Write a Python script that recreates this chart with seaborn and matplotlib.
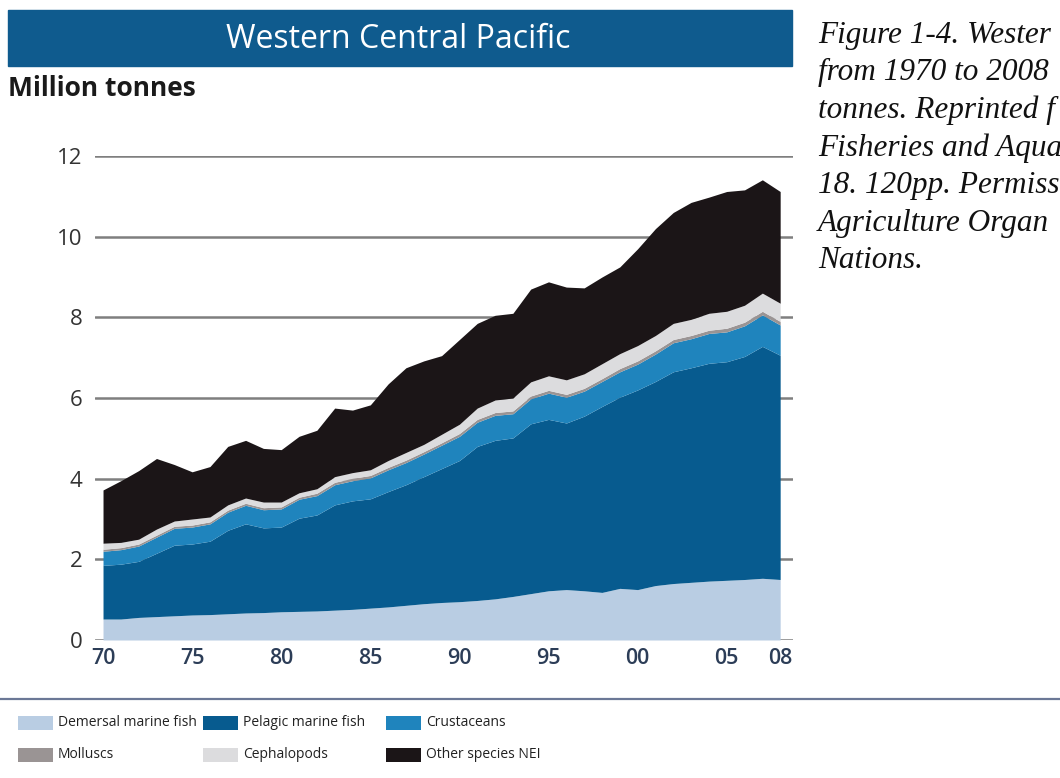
import numpy as np
import matplotlib
matplotlib.use("Agg")
import matplotlib.pyplot as plt
from matplotlib.patches import Rectangle
from matplotlib.lines import Line2D
import seaborn as sns

# Western Central Pacific catches, million tonnes
years = list(range(1970, 2009))

demersal = [0.52, 0.52, 0.56, 0.58, 0.60, 0.62, 0.63, 0.65, 0.67, 0.68,
            0.70, 0.71, 0.72, 0.74, 0.76, 0.79, 0.82, 0.86, 0.90, 0.93,
            0.95, 0.98, 1.02, 1.08, 1.15, 1.22, 1.25, 1.22, 1.18, 1.28,
            1.25, 1.35, 1.40, 1.43, 1.46, 1.48, 1.50, 1.53, 1.50]
pelagic = [1.33, 1.36, 1.39, 1.57, 1.75, 1.76, 1.82, 2.07, 2.21, 2.10,
           2.10, 2.31, 2.38, 2.61, 2.69, 2.71, 2.86, 2.99, 3.15, 3.32,
           3.50, 3.82, 3.93, 3.93, 4.21, 4.25, 4.13, 4.33, 4.61, 4.74,
           4.95, 5.06, 5.25, 5.32, 5.40, 5.42, 5.53, 5.75, 5.56]
crustaceans = [0.35, 0.36, 0.38, 0.40, 0.42, 0.42, 0.43, 0.45, 0.46, 0.45,
               0.45, 0.47, 0.48, 0.50, 0.50, 0.52, 0.54, 0.55, 0.56, 0.58,
               0.60, 0.60, 0.62, 0.60, 0.62, 0.65, 0.64, 0.62, 0.62, 0.63,
               0.64, 0.68, 0.72, 0.72, 0.74, 0.74, 0.76, 0.78, 0.75]
molluscs = [0.05, 0.05, 0.05, 0.05, 0.05, 0.05, 0.05, 0.05, 0.05, 0.05,
            0.05, 0.05, 0.06, 0.06, 0.06, 0.06, 0.06, 0.06, 0.06, 0.06,
            0.07, 0.07, 0.07, 0.07, 0.07, 0.07, 0.07, 0.07, 0.07, 0.08,
            0.08, 0.08, 0.08, 0.08, 0.08, 0.09, 0.09, 0.09, 0.09]
cephalopods = [0.15, 0.13, 0.12, 0.15, 0.13, 0.15, 0.12, 0.13, 0.13, 0.14,
               0.12, 0.11, 0.11, 0.14, 0.14, 0.14, 0.17, 0.19, 0.18, 0.21,
               0.23, 0.28, 0.31, 0.32, 0.35, 0.36, 0.36, 0.36, 0.37, 0.37,
               0.38, 0.38, 0.40, 0.40, 0.42, 0.42, 0.42, 0.45, 0.45]
other = [1.32, 1.53, 1.70, 1.75, 1.40, 1.17, 1.25, 1.45, 1.43, 1.33,
         1.30, 1.40, 1.45, 1.70, 1.55, 1.61, 1.90, 2.10, 2.07, 1.95,
         2.10, 2.10, 2.10, 2.10, 2.30, 2.33, 2.30, 2.13, 2.15, 2.15,
         2.40, 2.65, 2.75, 2.90, 2.88, 2.97, 2.86, 2.81, 2.77]

labels = ["Demersal marine fish", "Pelagic marine fish", "Crustaceans",
          "Molluscs", "Cephalopods", "Other species NEI"]
colors = ["#b9cde3", "#075b8f", "#1f84bd", "#9a9494", "#dcdcde", "#1b1517"]

yticks = [0, 2, 4, 6, 8, 10, 12]
xticks = [1970, 1975, 1980, 1985, 1990, 1995, 2000, 2005, 2008]
xticklabels = ["70", "75", "80", "85", "90", "95", "00", "05", "08"]

# caption text as far as it shows on the page
caption = ["Figure 1-4. Wester", "from 1970 to 2008", "tonnes. Reprinted f",
           "Fisheries and Aqua", "18. 120pp. Permiss",
           "Agriculture Organ", "Nations."]

W, H = 1060, 778

sns.set_theme(style="white")
plt.rcParams["font.family"] = ["Open Sans", "DejaVu Sans"]

fig = plt.figure(figsize=(W / 100, H / 100), dpi=100)
fig.patch.set_facecolor("white")

# axes spans pixel 95..793 horizontally, 156..640 vertically
ax = fig.add_axes([95 / W, 1 - 640 / H, (793 - 95) / W, (640 - 156) / H])
ax.set_facecolor("white")

for y in yticks:
    ax.axhline(y, color="#7f7f7f", lw=1.8, zorder=0)

ax.stackplot(years, demersal, pelagic, crustaceans, molluscs, cephalopods, other,
             colors=colors, labels=labels, lw=0, zorder=2)

ax.set_xlim(1969.55, 2008.72)
ax.set_ylim(0, 12)
ax.set_yticks(yticks)
ax.set_yticklabels([str(v) for v in yticks], fontsize=16, color="#333333")
ax.set_xticks(xticks)
ax.set_xticklabels(xticklabels, fontsize=15.5, color="#2c3d57", fontweight="semibold")
ax.tick_params(axis="both", length=0)
ax.tick_params(axis="y", pad=9)
ax.tick_params(axis="x", pad=6)
sns.despine(ax=ax, left=True, bottom=True, right=True, top=True)

# title band
fig.patches.append(Rectangle((8 / W, 1 - 66 / H), (792 - 8) / W, 56 / H,
                             transform=fig.transFigure, color="#0f5b8e", zorder=0))
fig.text(398 / W, 1 - 39 / H, "Western Central Pacific", color="white",
         fontsize=23, ha="center", va="center")

fig.text(8 / W, 1 - 89 / H, "Million tonnes", fontsize=19, fontweight="bold",
         color="#1a1a1a", ha="left", va="center")

# caption on the right
for i, line in enumerate(caption):
    fig.text(818 / W, 1 - (35 + 37.6 * i) / H, line, fontsize=22.5, style="italic",
             family=["Liberation Serif", "DejaVu Serif"], color="#111111",
             ha="left", va="center")

# legend strip
fig.lines.append(Line2D([0, 1], [1 - 699 / H, 1 - 699 / H], transform=fig.transFigure,
                        color="#6b7896", lw=1.6))
col_x = [18, 203, 386]
row_y = [723, 755]
for k in range(len(labels)):
    r, c = divmod(k, 3)
    x0, y0 = col_x[c], row_y[r]
    fig.patches.append(Rectangle((x0 / W, 1 - (y0 + 7) / H), 35 / W, 14 / H,
                                 transform=fig.transFigure, color=colors[k], lw=0))
    fig.text((x0 + 40) / W, 1 - y0 / H, labels[k], fontsize=10, color="#222222",
             ha="left", va="center")

fig.savefig("out.png", dpi=100)
